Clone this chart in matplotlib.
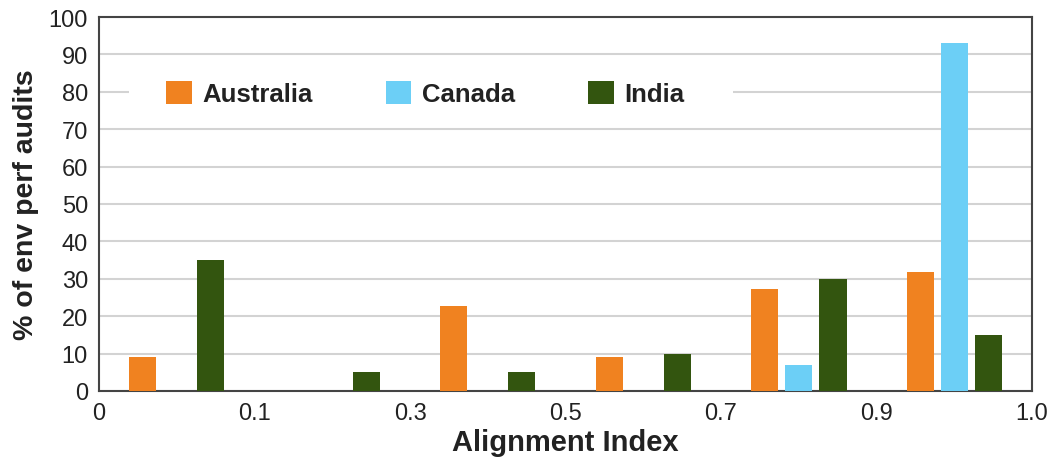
import numpy as np
import matplotlib
matplotlib.use("Agg")
import matplotlib.pyplot as plt
from matplotlib.patches import Rectangle
from matplotlib.transforms import blended_transform_factory

# ---------- data ----------
tick_labels = ["0", "0.1", "0.3", "0.5", "0.7", "0.9", "1.0"]
countries = ["Australia", "Canada", "India"]
australia = [9, 0, 22.7, 9, 27.3, 31.7]
canada = [0, 0, 0, 0, 7, 93]
india = [35, 5, 5, 10, 30, 15]

colors = ["#F08220", "#6CCFF6", "#33550F"]

plt.rcParams["font.family"] = ["Liberation Sans", "DejaVu Sans"]

fig = plt.figure(figsize=(10.6, 4.64), dpi=100)
ax = fig.add_axes([0.0934, 0.1552, 0.8802, 0.806])

groups = np.arange(len(australia))
width = 0.174
offsets = [0.28, 0.50, 0.72]
for series, off, col, name in zip([australia, canada, india], offsets, colors, countries):
    ax.bar(groups + off, series, width=width, color=col, label=name, zorder=3)

ax.set_xlim(0, len(australia))
ax.set_ylim(0, 100)
ax.set_xticks(np.arange(len(tick_labels)))
ax.set_xticklabels(tick_labels)
ax.set_yticks(np.arange(0, 101, 10))
ax.tick_params(axis="both", length=0, labelsize=17, labelcolor="#222222")
ax.tick_params(axis="x", pad=8)
ax.tick_params(axis="y", pad=8)

ax.yaxis.grid(True, color="#d3d3d3", linewidth=1.5, zorder=0)
ax.set_axisbelow(True)
for s in ax.spines.values():
    s.set_color("#444444")
    s.set_linewidth(1.5)

ax.set_xlabel("Alignment Index", fontsize=21, fontweight="bold", color="#222222", labelpad=3)
ax.set_ylabel("% of env perf audits", fontsize=20.5, fontweight="bold", color="#222222", labelpad=7)

# white box behind the legend that breaks the 80 gridline
trans = blended_transform_factory(ax.transAxes, ax.transData)
ax.add_patch(Rectangle((0.032, 74), 0.6475, 12, transform=trans,
                       facecolor="white", edgecolor="none", zorder=1))

leg = ax.legend(loc="center", bbox_to_anchor=(0.3496, 0.795), ncol=3, frameon=False,
                prop={"size": 18.5, "weight": "bold"}, handlelength=1.0, handleheight=1.0,
                handletextpad=0.4, columnspacing=2.85, borderpad=0.5, borderaxespad=0)
for t in leg.get_texts():
    t.set_color("#222222")
leg.set_zorder(5)

fig.savefig("out.png", dpi=100)
